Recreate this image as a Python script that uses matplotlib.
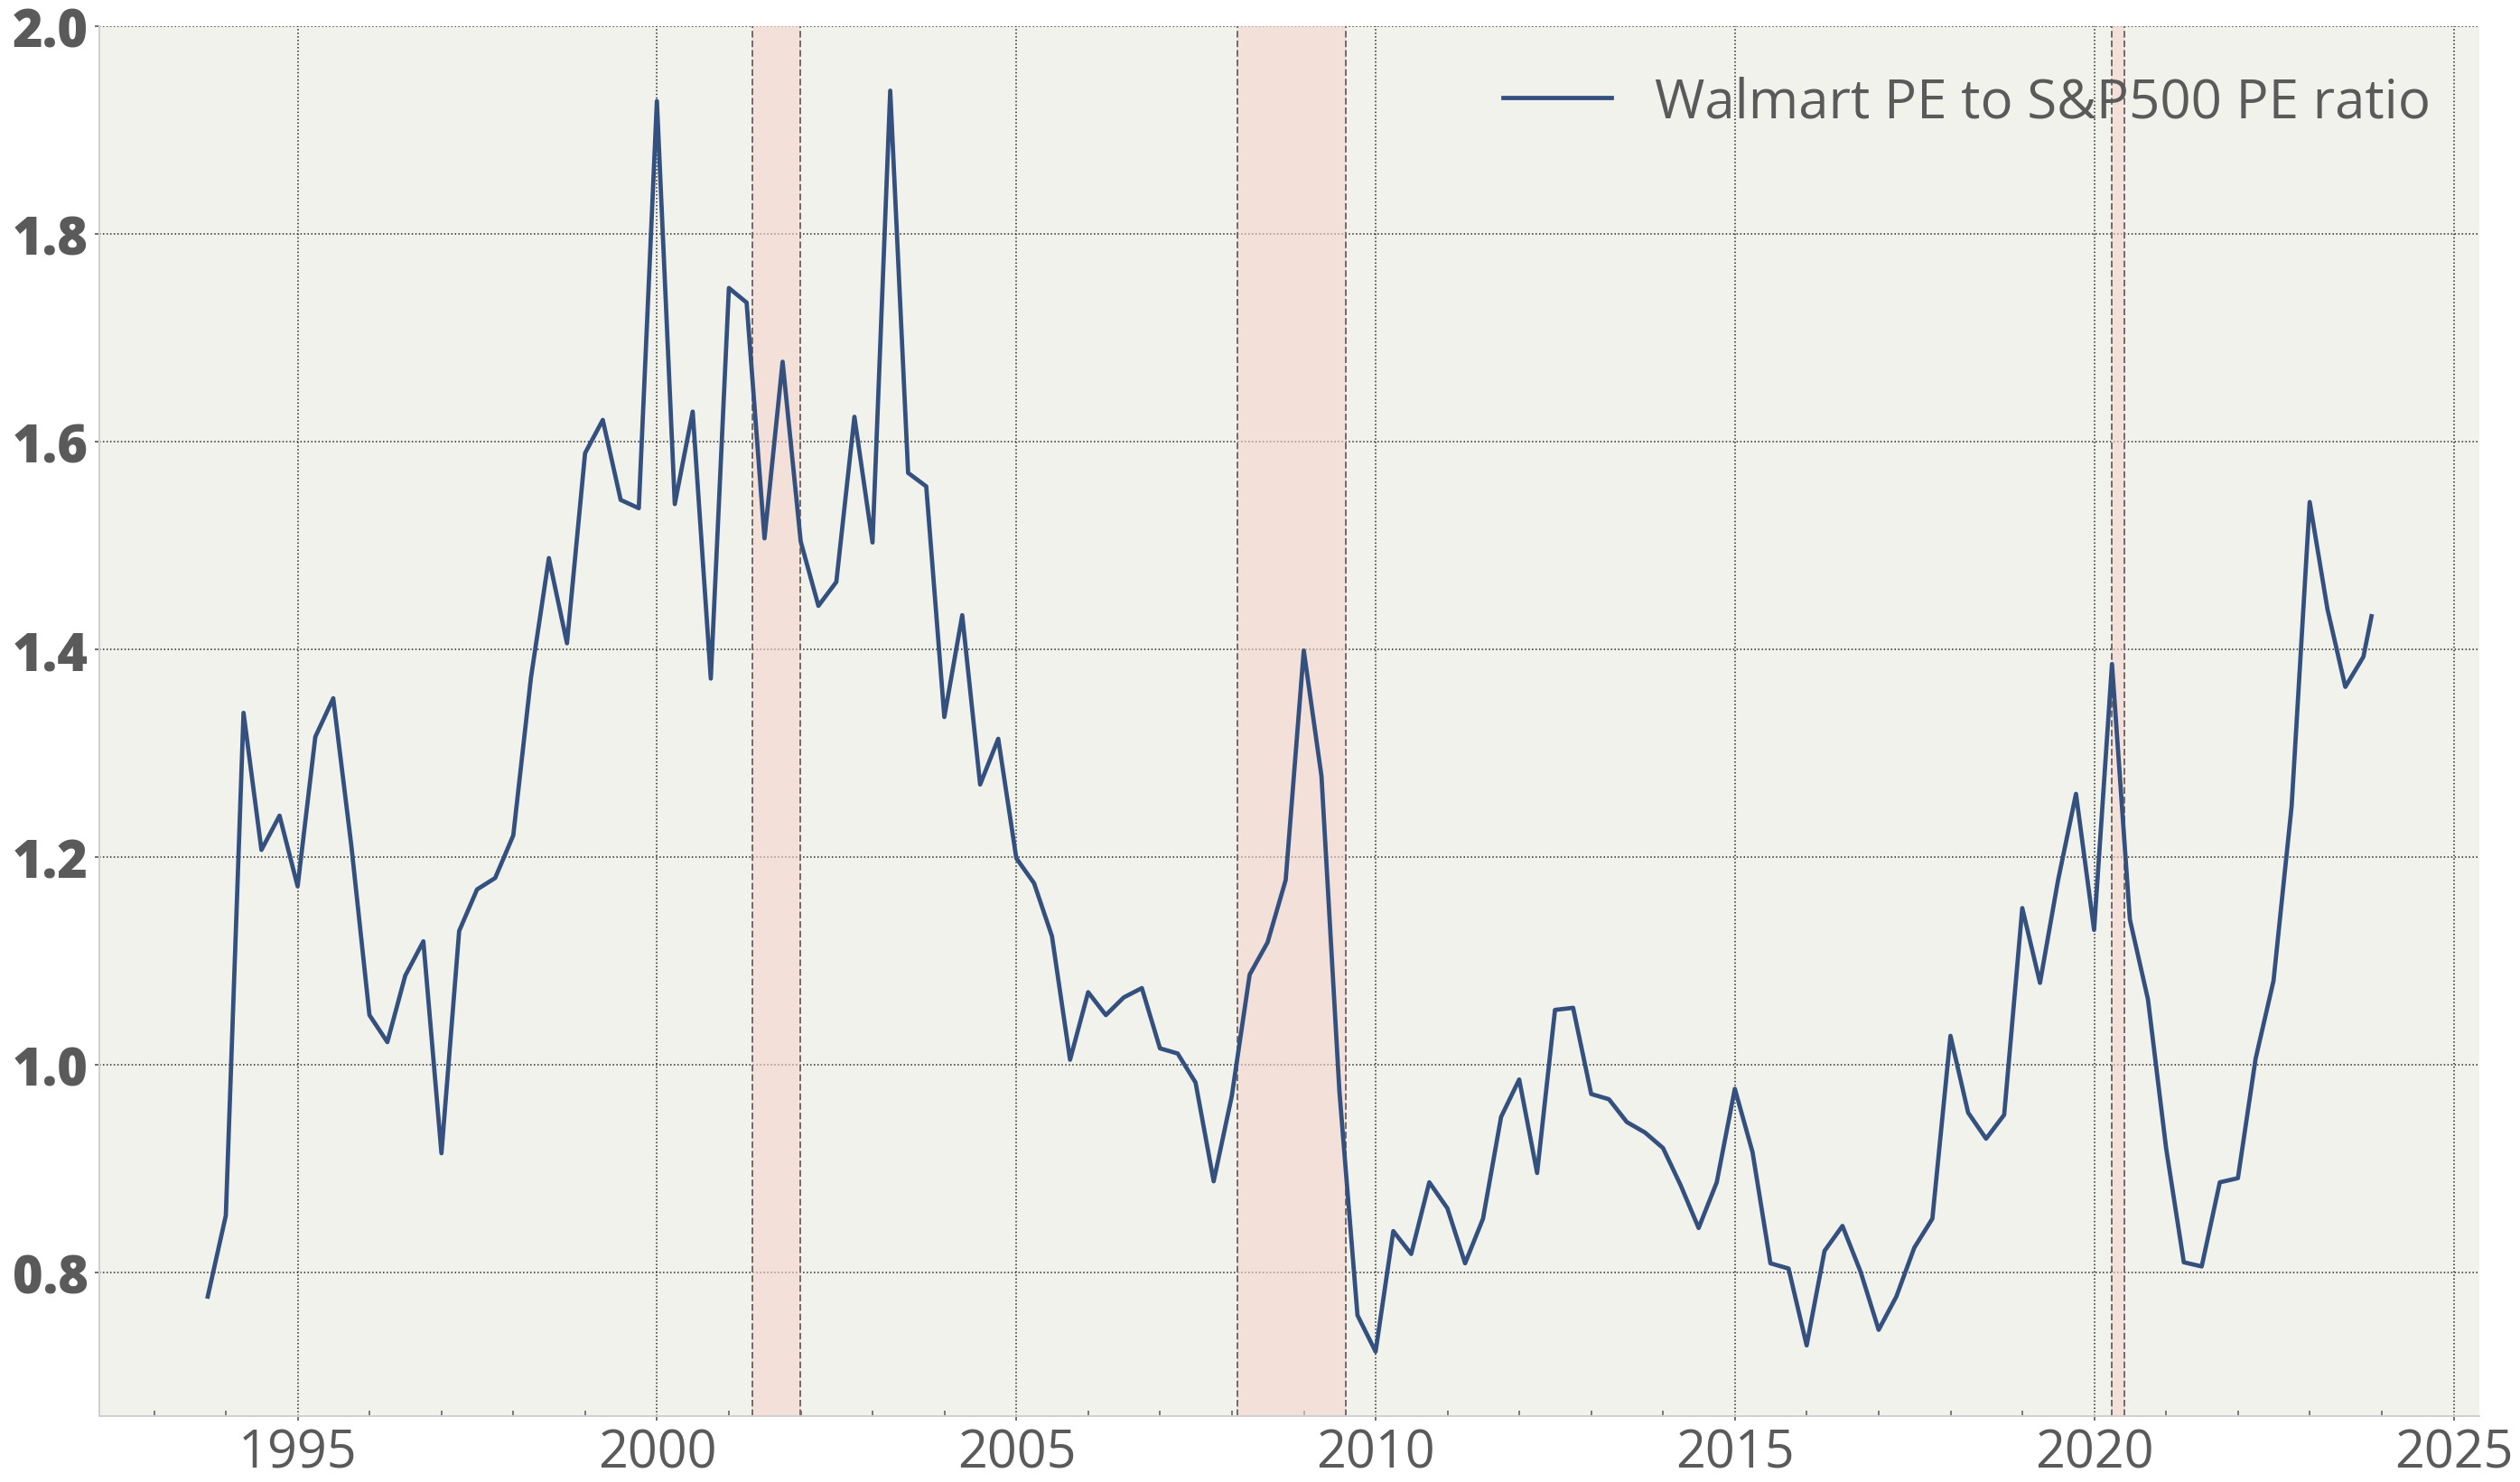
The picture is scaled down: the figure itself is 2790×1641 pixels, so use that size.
import pandas as pd
import matplotlib

matplotlib.use("Agg")
import matplotlib.pyplot as plt
import matplotlib.dates as mdates

# Quarter-end observations, last one is a partial quarter
dates = list(pd.date_range("1993-09-30", "2023-09-30", freq="QE")) + [pd.Timestamp("2023-11-10")]

pe_ratio = [
    0.777, 0.855, 1.339, 1.207, 1.240, 1.172, 1.316, 1.353, 1.211, 1.048,
    1.022, 1.086, 1.119, 0.915, 1.129, 1.169, 1.180, 1.221, 1.373, 1.488,
    1.406, 1.589, 1.621, 1.544, 1.536, 1.928, 1.540, 1.629, 1.372, 1.748,
    1.734, 1.507, 1.677, 1.504, 1.442, 1.465, 1.624, 1.503, 1.938, 1.570,
    1.557, 1.335, 1.433, 1.270, 1.314, 1.199, 1.175, 1.124, 1.005, 1.070,
    1.048, 1.065, 1.074, 1.016, 1.011, 0.983, 0.888, 0.970, 1.087, 1.118,
    1.178, 1.399, 1.278, 0.975, 0.759, 0.724, 0.840, 0.818, 0.887, 0.862,
    0.809, 0.852, 0.950, 0.986, 0.896, 1.053, 1.055, 0.972, 0.967, 0.945,
    0.935, 0.920, 0.884, 0.843, 0.887, 0.977, 0.916, 0.809, 0.804, 0.730,
    0.821, 0.845, 0.801, 0.745, 0.777, 0.824, 0.852, 1.028, 0.954, 0.929,
    0.952, 1.151, 1.079, 1.177, 1.261, 1.130, 1.386, 1.140, 1.063, 0.920,
    0.810, 0.806, 0.887, 0.891, 1.006, 1.081, 1.249, 1.542, 1.439, 1.364,
    1.393, 1.432,
]

recessions = [
    ("2001-04-30", "2001-12-31"),
    ("2008-01-31", "2009-07-31"),
    ("2020-03-31", "2020-05-31"),
]

label = "Walmart PE to S&P500 PE ratio"

plt.rcParams["font.family"] = ["Open Sans", "DejaVu Sans"]
text_color = "#5a5a5a"

fig = plt.figure(figsize=(15.5, 9.122), dpi=180)
ax = fig.add_axes([0.0395, 0.0445, 0.9445, 0.9372])
ax.set_facecolor("#f2f2ed")

ax.plot(dates, pe_ratio, color="#34507f", linewidth=1.9, label=label, zorder=3)

# shaded recessions, dashed edges only on the sides
for start, end in recessions:
    s, e = pd.Timestamp(start), pd.Timestamp(end)
    ax.axvspan(s, e, facecolor=(0.949, 0.831, 0.804, 0.6), edgecolor="none", zorder=1)
    for edge in (s, e):
        ax.axvline(edge, color="#776b6b", linestyle="--", linewidth=0.8, zorder=1.5)

ax.set_ylim(0.662, 2.0)
ax.set_yticks([0.8, 1.0, 1.2, 1.4, 1.6, 1.8, 2.0])
ax.xaxis.set_major_locator(mdates.YearLocator(5))
ax.xaxis.set_minor_locator(mdates.YearLocator(1))
ax.xaxis.set_major_formatter(mdates.DateFormatter("%Y"))

ax.grid(True, which="major", color="#222222", linestyle=":", linewidth=0.6)
ax.set_axisbelow(True)

for side in ("top", "right"):
    ax.spines[side].set_visible(False)
for side in ("left", "bottom"):
    ax.spines[side].set_color("#d0d0d0")
    ax.spines[side].set_linewidth(0.8)

ax.tick_params(axis="both", which="major", length=2, width=0.6, color="#444444",
               labelcolor=text_color, labelsize=23, pad=3)
ax.tick_params(axis="x", which="minor", direction="in", length=2.6, width=0.6, color="#555555")
for lab in ax.get_yticklabels():
    lab.set_fontweight("heavy")

leg = ax.legend(loc="upper right", frameon=False, fontsize=24)
for t in leg.get_texts():
    t.set_color(text_color)

fig.savefig("out.png", dpi=180)
